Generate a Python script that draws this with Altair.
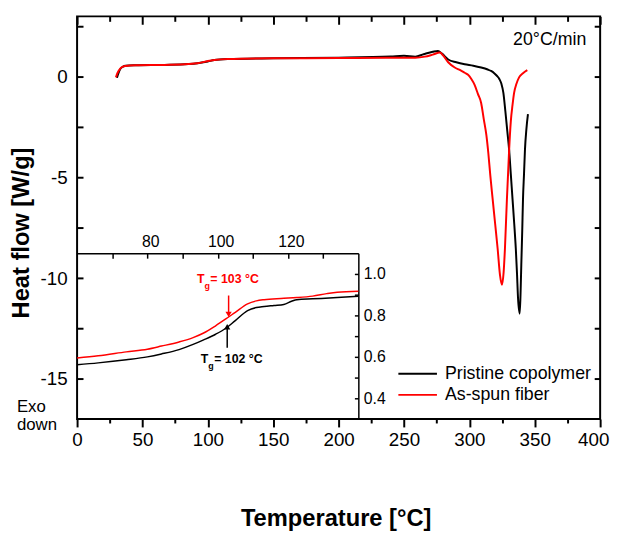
import altair as alt
import pandas as pd

# ---------------- data ----------------
SERIES = ["Pristine copolymer", "As-spun fiber"]
COLORS = ["#000000", "#ff0000"]

# main DSC curves: temperature [°C], heat flow [W/g]
black_T = [30.5, 31.5, 33, 35, 37, 45, 67, 85, 92, 100, 105, 115, 150, 200, 240, 250, 258.6, 265, 272, 276,
           279, 283.8, 290, 296.4, 303, 309, 314, 316.6, 319, 321, 323, 324.5, 326, 327.5, 329, 330.4, 331.7,
           333, 334.3, 335.5, 336.4, 337.2, 338.5, 339.2, 339.7, 340.4, 341, 341.8, 342.5, 343.6, 344.8]
black_v = [-0.05, 0.15, 0.38, 0.50, 0.55, 0.57, 0.59, 0.63, 0.67, 0.76, 0.83, 0.88, 0.92, 0.95, 1.01, 1.04, 1.0,
           1.12, 1.24, 1.28, 1.15, 0.86, 0.72, 0.62, 0.55, 0.46, 0.36, 0.29, 0.18, 0.05, -0.12, -0.35, -0.8,
           -1.7, -2.7, -3.63, -4.85, -6.08, -7.3, -8.53, -9.75, -10.98, -11.76, -10.6, -9.35, -7.7, -6.08,
           -4.8, -3.63, -2.6, -1.86]

red_T = [29.7, 31, 33, 35, 37, 45, 67, 85, 92, 100, 105, 115, 150, 200, 240, 258.6, 266, 272, 277.5, 280,
         283.8, 288.8, 293, 296.4, 299, 301.5, 304, 306.5, 309, 311, 313, 314.5, 316, 317.8, 319.7, 321.6,
         323.4, 324.9, 326.2, 327.2, 328.7, 329.6, 330.4, 331.7, 333, 334.2, 336, 338, 341, 344.3]
red_v = [-0.03, 0.2, 0.4, 0.5, 0.54, 0.57, 0.59, 0.63, 0.67, 0.78, 0.83, 0.88, 0.92, 0.93, 0.95, 0.95, 1.0,
         1.1, 1.2, 1.05, 0.72, 0.46, 0.33, 0.2, 0.1, -0.11, -0.4, -0.85, -1.3, -2.1, -2.9, -3.8, -4.9, -6.08,
         -7.3, -8.53, -9.84, -10.33, -9.7, -8.53, -6.08, -4.8, -3.63, -2.2, -1.4, -0.8, -0.35, -0.03, 0.18, 0.33]

# inset (glass transition region)
in_black_T = [60, 66, 74, 80, 84, 89, 93, 96, 99.4, 102.3, 105, 108.5, 111, 113.2, 116, 118.8, 121, 122.5,
              127, 134, 140]
in_black_v = [0.562, 0.571, 0.586, 0.600, 0.614, 0.635, 0.660, 0.682, 0.709, 0.738, 0.775, 0.823, 0.838,
              0.843, 0.848, 0.853, 0.868, 0.876, 0.880, 0.886, 0.892]
in_red_T = [60, 66, 74, 80, 84, 89, 93, 96, 99.4, 102.3, 105, 108.5, 111, 113.2, 118, 122.5, 127, 131, 134, 140]
in_red_v = [0.595, 0.605, 0.624, 0.637, 0.652, 0.672, 0.693, 0.715, 0.75, 0.783, 0.815, 0.856, 0.870, 0.876,
            0.882, 0.886, 0.893, 0.905, 0.912, 0.917]

# axis tick values
main_x_major = [0, 50, 100, 150, 200, 250, 300, 350, 400]
main_x_minor = [25, 75, 125, 175, 225, 275, 325, 375]
main_y_labels = [0, -5, -10, -15]
main_y_ticks = [2.5, 0, -2.5, -5, -7.5, -10, -12.5, -15]
in_x_labels = [80, 100, 120]
in_x_ticks = [70, 80, 90, 100, 110, 120, 130]
in_y_labels = [0.4, 0.6, 0.8, 1.0]
in_y_ticks = [0.4, 0.5, 0.6, 0.7, 0.8, 0.9, 1.0]

# annotations (positions in data units)
tg_labels = [("= 103 °C", 97.9, 0.975, "#ff0000"), ("= 102 °C", 99.0, 0.590, "#000000")]
arrows = [(103.1, 0.896, 0.805, "#ff0000", "triangle-down"), (102.7, 0.644, 0.745, "#000000", "triangle-up")]
legend_rows = [(SERIES[0], COLORS[0], -14.75), (SERIES[1], COLORS[1], -15.8)]
legend_line_T = (245.7, 275.2)
legend_text_T = 281.3

# ---------------- tables ----------------
main_df = pd.concat([
    pd.DataFrame({"T": black_T, "v": black_v, "series": SERIES[0]}),
    pd.DataFrame({"T": red_T, "v": red_v, "series": SERIES[1]}),
], ignore_index=True)
inset_df = pd.concat([
    pd.DataFrame({"T": in_black_T, "v": in_black_v, "series": SERIES[0]}),
    pd.DataFrame({"T": in_red_T, "v": in_red_v, "series": SERIES[1]}),
], ignore_index=True)
tg_df = pd.DataFrame(tg_labels, columns=["label", "T", "v", "c"])
arrow_df = pd.DataFrame(arrows, columns=["T", "v0", "v1", "c", "shape"])
leg_df = pd.DataFrame(legend_rows, columns=["label", "c", "v"])
leg_df["T0"], leg_df["T1"], leg_df["Tt"] = legend_line_T[0], legend_line_T[1], legend_text_T
rate_df = pd.DataFrame({"T": [389.4], "v": [1.81], "label": ["20°C/min"]})
exo_df = pd.DataFrame({"T": [-46.0, -46.0], "v": [-16.4, -17.3], "label": ["Exo", "down"]})

# ---------------- layout ----------------
W, H = 530, 408
IN_W, IN_TOP = 285, 240
SANS = "Liberation Sans, Arial, sans-serif"

def xs():
    return alt.Scale(domain=[0, 400], nice=False, zero=False)

def ys():
    return alt.Scale(domain=[-17.0, 3.0], nice=False, zero=False)

def xis():
    return alt.Scale(domain=[60, 140], range=[0, IN_W], nice=False, zero=False)

def yis():
    return alt.Scale(domain=[0.3, 1.1], range=[H, IN_TOP], nice=False, zero=False)

color = alt.Color("series:N", scale=alt.Scale(domain=SERIES, range=COLORS), legend=None)

# main curves + labelled axes
lines = alt.Chart(main_df).mark_line(strokeWidth=2, interpolate="monotone").encode(
    x=alt.X("T:Q", scale=xs(), axis=alt.Axis(
        orient="bottom", values=main_x_major, tickSize=8, tickWidth=2, labelPadding=4,
        labelFont=SANS, labelFontSize=19, labelFlush=False, labelOverlap=False, domain=False,
        labelOffset={"condition": {"test": "datum.value == 400", "value": -7}, "value": 0},
        title="Temperature [°C]", titleFont=SANS, titleFontSize=24, titleFontWeight="bold",
        titleX=262, titleY=108, titleAlign="center", titleBaseline="alphabetic")),
    y=alt.Y("v:Q", scale=ys(), axis=alt.Axis(
        orient="left", values=main_y_labels, ticks=False, tickSize=0, labelPadding=10,
        labelExpr="'' + datum.value",
        labelFont=SANS, labelFontSize=19, labelFlush=False, labelOverlap=False, domain=False,
        title="Heat flow [W/g]", titleFont=SANS, titleFontSize=24, titleFontWeight="bold",
        titleAngle=-90, titleX=-49, titleY=219, titleAlign="center", titleBaseline="alphabetic")),
    color=color,
)

def tick_layer(df, xscale, yscale, xaxis, yaxis):
    return alt.Chart(df).mark_line(strokeOpacity=0).encode(
        x=alt.X("T:Q", scale=xscale, axis=xaxis),
        y=alt.Y("v:Q", scale=yscale, axis=yaxis),
    )

def tick_axis(orient, values, size, offset=0, width=2):
    return alt.Axis(orient=orient, values=values, tickSize=size, tickWidth=width, offset=offset,
                    labels=False, domain=False, title=None, grid=False)

# bottom minor ticks (outward) + left inward ticks
t1 = tick_layer(main_df, xs(), ys(), tick_axis("bottom", main_x_minor, 4),
                tick_axis("right", main_y_ticks, 6, offset=-W))
# top inward major ticks + right inward ticks
t2 = tick_layer(main_df, xs(), ys(), tick_axis("bottom", main_x_major, 8, offset=-H),
                tick_axis("left", main_y_ticks, 6, offset=-W))
# top inward minor ticks
t3 = tick_layer(main_df, xs(), ys(), tick_axis("bottom", main_x_minor, 5, offset=-H), None)

rate = alt.Chart(rate_df).mark_text(align="right", baseline="middle", font=SANS, fontSize=18,
                                    color="black").encode(
    x=alt.X("T:Q", scale=xs(), axis=None), y=alt.Y("v:Q", scale=ys(), axis=None), text="label:N")
exo = alt.Chart(exo_df).mark_text(align="left", baseline="middle", font=SANS, fontSize=17,
                                  color="black").encode(
    x=alt.X("T:Q", scale=xs(), axis=None), y=alt.Y("v:Q", scale=ys(), axis=None), text="label:N")

# legend (drawn in data units of the main axes)
leg_lines = alt.Chart(leg_df).mark_rule(strokeWidth=2).encode(
    x=alt.X("T0:Q", scale=xs(), axis=None), x2="T1:Q",
    y=alt.Y("v:Q", scale=ys(), axis=None),
    color=alt.Color("c:N", scale=None))
leg_text = alt.Chart(leg_df).mark_text(align="left", baseline="middle", font=SANS, fontSize=18,
                                       color="black").encode(
    x=alt.X("Tt:Q", scale=xs(), axis=None),
    y=alt.Y("v:Q", scale=ys(), axis=None), text="label:N")

# inset curves + inset axes (top and right, drawn inside the main frame)
inset_lines = alt.Chart(inset_df).mark_line(strokeWidth=1.5, interpolate="monotone").encode(
    x=alt.X("T:Q", scale=xis(), axis=alt.Axis(
        orient="top", offset=-IN_TOP, values=in_x_labels, ticks=False, tickSize=0, labelPadding=4,
        labelOffset=3, labelFont=SANS, labelFontSize=16, labelFlush=False, labelOverlap=False,
        domain=True, domainWidth=1.5, domainColor="black", title=None)),
    y=alt.Y("v:Q", scale=yis(), axis=alt.Axis(
        orient="right", offset=-(W - IN_W), values=in_y_labels, ticks=False, tickSize=0,
        labelPadding=5, format=".1f", labelFont=SANS, labelFontSize=16, labelFlush=False,
        labelOverlap=False, domain=True, domainWidth=1.5, domainColor="black", title=None)),
    color=color,
)
inset_ticks = tick_layer(inset_df, xis(), yis(),
                         tick_axis("bottom", in_x_ticks, 5, offset=-(H - IN_TOP), width=1.5),
                         tick_axis("left", in_y_ticks, 4, offset=-IN_W, width=1.5))

shafts = alt.Chart(arrow_df).mark_rule(strokeWidth=1.5).encode(
    x=alt.X("T:Q", scale=xis(), axis=None),
    y=alt.Y("v0:Q", scale=yis(), axis=None), y2="v1:Q",
    color=alt.Color("c:N", scale=None))
heads = alt.Chart(arrow_df).mark_point(filled=True, size=40, opacity=1).encode(
    x=alt.X("T:Q", scale=xis(), axis=None),
    y=alt.Y("v1:Q", scale=yis(), axis=None),
    shape=alt.Shape("shape:N", scale=None),
    color=alt.Color("c:N", scale=None))

tg_base = alt.Chart(tg_df).encode(
    x=alt.X("T:Q", scale=xis(), axis=None), y=alt.Y("v:Q", scale=yis(), axis=None),
    color=alt.Color("c:N", scale=None))
tg_T = tg_base.mark_text(align="right", baseline="middle", dx=-6, font=SANS, fontSize=12.5,
                         fontWeight="bold", text="T")
tg_g = tg_base.mark_text(align="left", baseline="middle", dx=-6, dy=7, font=SANS, fontSize=9,
                         fontWeight="bold", text="g")
tg_rest = tg_base.mark_text(align="left", baseline="middle", dx=0, font=SANS, fontSize=12.5,
                            fontWeight="bold").encode(text="label:N")

chart = alt.layer(
    lines, t1, t2, t3, rate, exo, leg_lines, leg_text, inset_lines, inset_ticks, shafts, heads,
    tg_T, tg_g, tg_rest
).resolve_scale(
    x="independent", y="independent"
).resolve_axis(
    x="independent", y="independent"
).properties(
    width=W, height=H, autosize=alt.AutoSizeParams(type="none"),
    padding={"left": 70, "top": 5, "right": 11, "bottom": 112},
).configure_view(
    stroke="black", strokeWidth=2
).configure_axis(
    labelColor="black", tickColor="black", domainColor="black", grid=False, titleColor="black"
)

chart.save("out.html", embed_options={"renderer": "svg", "actions": False})
